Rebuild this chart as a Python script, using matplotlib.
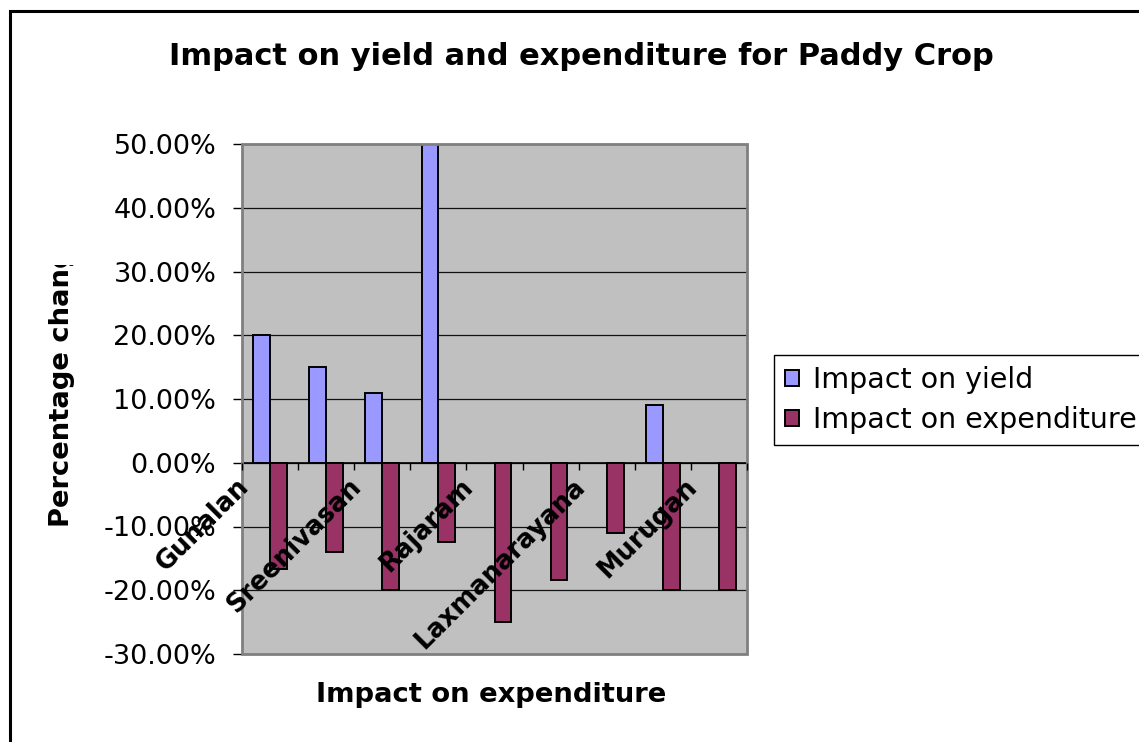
import numpy as np
import matplotlib
matplotlib.use("Agg")
import matplotlib.pyplot as plt
from matplotlib.patches import Patch, Rectangle
from matplotlib.transforms import ScaledTranslation, Bbox, TransformedBbox
from matplotlib.ticker import FuncFormatter

# Farmers (only every other name is printed on the category axis)
farmers = ["Gunalan", "", "Sreenivasan", "", "Rajaram", "", "Laxmanarayana", "", "Murugan"]
# Percentage change per farmer (blank = no value)
impact_yield = [20, 15, 11, 50, np.nan, np.nan, np.nan, 9, np.nan]
impact_expenditure = [-16.7, -14, -20, -12.5, -25, -18.4, -11, -20, -20]
series_names = ["Impact on yield", "Impact on expenditure"]
y_ticks = [-30, -20, -10, 0, 10, 20, 30, 40, 50]

title = "Impact on yield and expenditure for Paddy Crop"
x_title = "Impact on expenditure"
y_title = "Percentage change"

W, H = 1139, 742
fig = plt.figure(figsize=(W / 100, H / 100), dpi=100)
fig.patch.set_facecolor("white")

# outer chart border (runs past the right and bottom edges)
fig.patches.append(Rectangle((9.7 / W, -0.1), 1.2, 1.1 - 11.3 / H,
                             transform=fig.transFigure, fill=False,
                             edgecolor="black", linewidth=2.2))

ax = fig.add_axes([242 / W, 1 - 654 / H, (747 - 242) / W, (654 - 144) / H])
ax.set_facecolor("#C0C0C0")

x = np.arange(len(farmers))
bw = 0.30
ax.bar(x - bw / 2, impact_yield, bw, color="#9999FF", edgecolor="black",
       linewidth=1.4, zorder=3)
ax.bar(x + bw / 2, impact_expenditure, bw, color="#993366", edgecolor="black",
       linewidth=1.4, zorder=3)

ax.set_xlim(-0.5, len(farmers) - 0.5)
ax.set_ylim(y_ticks[0], y_ticks[-1])
ax.set_yticks(y_ticks)
ax.yaxis.set_major_formatter(FuncFormatter(lambda v, p: f"{v:.2f}%"))
ax.yaxis.grid(True, color="#111111", linewidth=0.9)
ax.set_axisbelow(True)
# category names sit on top of the bars
ax.xaxis.set_zorder(6)

for s in ("left", "right", "top"):
    ax.spines[s].set_visible(False)
ax.spines["bottom"].set_position(("data", 0))
ax.spines["bottom"].set_color("black")
ax.spines["bottom"].set_linewidth(1.2)
ax.spines["bottom"].set_zorder(4)

# plot-area frame
ax.add_patch(Rectangle((0, 0), 1, 1, transform=ax.transAxes, fill=False,
                       edgecolor="#808080", linewidth=2.0, zorder=5, clip_on=False))

ax.tick_params(axis="y", direction="out", length=6.5, width=1.0, pad=12,
               labelsize=19.5, color="black")

ax.set_xticks(x)
ax.set_xticklabels(farmers)
ax.set_xticks(np.arange(-0.5, len(farmers)), minor=True)
ax.tick_params(axis="x", which="major", length=0, pad=0, labelsize=18.5)
ax.tick_params(axis="x", which="minor", direction="out", length=5, width=1.0,
               color="black")
offset = ScaledTranslation(-0.25, -0.20, fig.dpi_scale_trans)
for lab in ax.get_xticklabels():
    lab.set_rotation(45)
    lab.set_rotation_mode("anchor")
    lab.set_ha("right")
    lab.set_va("center")
    lab.set_fontweight("bold")
    lab.set_transform(lab.get_transform() + offset)

fig.text(581.5 / W, 1 - 65 / H, title, ha="center", va="baseline",
         fontsize=22, fontweight="bold")
fig.text(491 / W, 1 - 702 / H, x_title, ha="center", va="baseline",
         fontsize=19.7, fontweight="bold")
yt = fig.text(62 / W, 1 - 527 / H, y_title, ha="center", va="bottom",
              rotation=90, fontsize=19.7, fontweight="bold")
yt.set_clip_box(TransformedBbox(Bbox([[0, 0], [1, 1 - 265 / H]]), fig.transFigure))
yt.set_clip_on(True)

handles = [Patch(facecolor="#9999FF", edgecolor="black", linewidth=1.4),
           Patch(facecolor="#993366", edgecolor="black", linewidth=1.4)]
leg = fig.legend(handles, series_names, loc="upper left",
                 bbox_to_anchor=(774 / W, 1 - 355 / H), fontsize=20.5,
                 frameon=True, fancybox=False, edgecolor="black", framealpha=1,
                 borderpad=0.38, handlelength=0.5, handleheight=0.5,
                 handletextpad=0.5, labelspacing=0.42, borderaxespad=0)
leg.get_frame().set_linewidth(1.0)

fig.savefig("out.png", dpi=100)
